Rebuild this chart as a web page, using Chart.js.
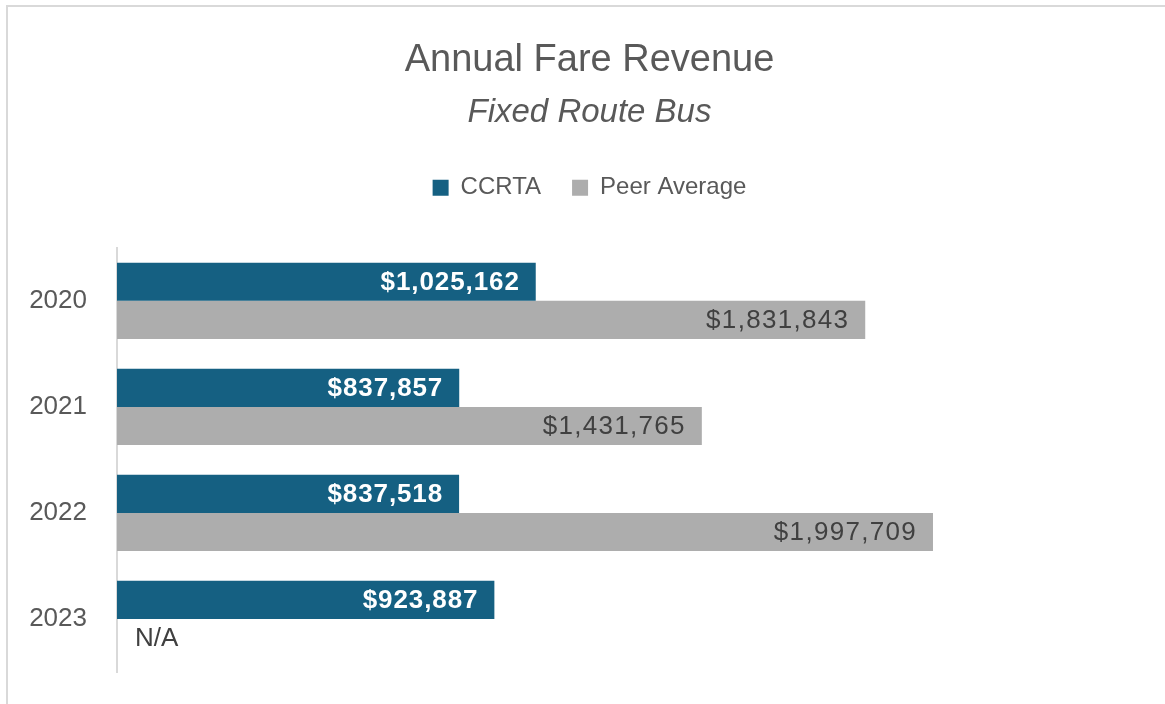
<!DOCTYPE html>
<html><head><meta charset="utf-8">
<script src="https://cdn.jsdelivr.net/npm/chart.js@4.4.1/dist/chart.umd.min.js"></script>
<style>
html,body{margin:0;padding:0;background:#fff;overflow:hidden;width:1165px;height:704px;}
#wrap{position:absolute;left:0;top:0;width:1179px;height:704px;}
#frame{position:absolute;left:6px;top:5px;width:1300px;height:900px;border:2px solid #d9d9d9;box-sizing:border-box;pointer-events:none;}
</style></head><body>
<div id="wrap"><canvas id="c" width="1179" height="704" style="width:1179px;height:704px"></canvas></div>
<div id="frame"></div>
<script>
const categories = ['2020', '2021', '2022', '2023'];
const seriesNames = ['CCRTA', 'Peer Average'];
const ccrtaValues = [1025162, 837857, 837518, 923887];
const peerValues = [1831843, 1431765, 1997709, null];
const titleText = 'Annual Fare Revenue';
const subtitleText = 'Fixed Route Bus';
const missingLabel = 'N/A';

const FAMILY = '"Liberation Sans", Arial, sans-serif';
const fmt = v => '$' + v.toLocaleString('en-US');

const valueLabels = {
  id: 'valueLabels',
  afterDatasetsDraw(chart) {
    const ctx = chart.ctx;
    chart.data.datasets.forEach((ds, di) => {
      const meta = chart.getDatasetMeta(di);
      const st = ds.labelStyle;
      meta.data.forEach((el, i) => {
        const v = ds.data[i];
        ctx.save();
        ctx.textBaseline = 'middle';
        if (v === null || v === undefined) {
          let y = el.y;
          if (!isFinite(y)) {
            const prev = chart.getDatasetMeta(0).data[i];
            y = prev.y + prev.height;
          }
          ctx.textAlign = 'left';
          ctx.font = '26px ' + FAMILY;
          ctx.fillStyle = '#404040';
          ctx.fillText(missingLabel, chart.chartArea.left + 18, y + 1);
        } else {
          ctx.textAlign = 'right';
          ctx.font = st.font;
          ctx.fillStyle = st.color;
          if ('letterSpacing' in ctx) ctx.letterSpacing = st.spacing;
          ctx.fillText(fmt(v), el.x - 16, el.y + 1);
        }
        ctx.restore();
      });
    });
  }
};

new Chart(document.getElementById('c'), {
  type: 'bar',
  data: {
    labels: categories,
    datasets: [
      { label: seriesNames[0], data: ccrtaValues, backgroundColor: '#156082', borderWidth: 0,
        categoryPercentage: 0.72, barPercentage: 1.0,
        labelStyle: { font: 'bold 26px ' + FAMILY, color: '#ffffff', spacing: '0.9px' } },
      { label: seriesNames[1], data: peerValues, backgroundColor: '#ADADAD', borderWidth: 0,
        categoryPercentage: 0.72, barPercentage: 1.0,
        labelStyle: { font: '26px ' + FAMILY, color: '#404040', spacing: '1.3px' } }
    ]
  },
  options: {
    responsive: false,
    animation: false,
    indexAxis: 'y',
    layout: { padding: { left: 0, right: 0, top: 0, bottom: 32 } },
    scales: {
      x: {
        position: 'top', min: 0, max: 2600000,
        grid: { display: false, drawTicks: false },
        border: { display: false },
        ticks: { display: false },
        afterFit(s) { s.height = 38; }
      },
      y: {
        grid: { display: false, drawTicks: false },
        border: { display: true, color: '#d9d9d9', width: 2 },
        ticks: { color: '#595959', font: { family: FAMILY, size: 26 }, padding: 30 },
        afterFit(s) { s.width = 117; s.paddingTop = 0; s.paddingBottom = 0; }
      }
    },
    plugins: {
      title: { display: true, text: titleText, color: '#595959',
        font: { family: FAMILY, size: 38, weight: 'normal' }, padding: { top: 38, bottom: 9.6 } },
      subtitle: { display: true, text: subtitleText, color: '#595959',
        font: { family: FAMILY, size: 33, style: 'italic', weight: 'normal' }, padding: { top: 0, bottom: 12 } },
      legend: { display: true, position: 'top',
        labels: { color: '#595959', font: { family: FAMILY, size: 24 }, boxWidth: 16, boxHeight: 16, padding: 31 } },
      tooltip: { enabled: false }
    }
  },
  plugins: [valueLabels]
});
</script>
</body></html>
